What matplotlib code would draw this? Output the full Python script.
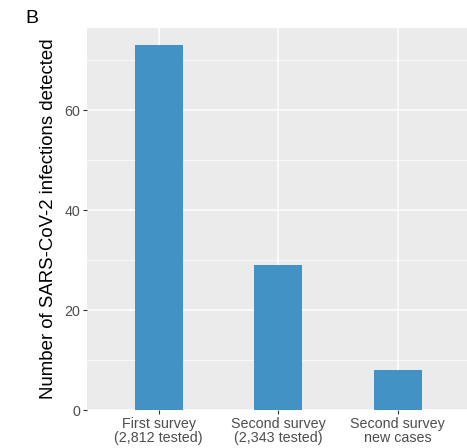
import matplotlib.pyplot as plt
from matplotlib.ticker import MultipleLocator

# data
categories = ["First survey\n(2,812 tested)", "Second survey\n(2,343 tested)", "Second survey\nnew cases"]
infections = [73, 29, 8]

plt.rcParams['font.family'] = ['Liberation Sans', 'DejaVu Sans']

fig = plt.figure(figsize=(4.67, 4.48), dpi=100)
ax = fig.add_axes([87 / 467, 1 - 410 / 448, 1 - 87 / 467, 382 / 448])

ax.set_facecolor('#ebebeb')
x = list(range(1, len(categories) + 1))
ax.bar(x, infections, width=0.4, color='#4292c6', zorder=3)

ax.set_xlim(0.4, 3.58)
ax.set_ylim(0, 76.4)
ax.yaxis.set_major_locator(MultipleLocator(20))
ax.yaxis.set_minor_locator(MultipleLocator(10))
ax.set_xticks(x)
ax.set_xticklabels(categories, linespacing=1.0)

ax.grid(which='major', color='white', linewidth=1.1, zorder=1)
ax.grid(which='minor', axis='y', color='white', linewidth=0.5, zorder=1)
for s in ax.spines.values():
    s.set_visible(False)

ax.tick_params(axis='both', which='major', length=3, width=0.8, color='#333333',
               labelcolor='#4d4d4d', labelsize=10.3, pad=2)
ax.tick_params(axis='both', which='minor', length=0)

ax.set_ylabel('Number of SARS-CoV-2 infections detected', fontsize=13.4, labelpad=5)

fig.text(25 / 467, 1 - 18.5 / 448, 'B', fontsize=14, ha='left', va='center')

fig.savefig('out.png', dpi=100, facecolor='white')
